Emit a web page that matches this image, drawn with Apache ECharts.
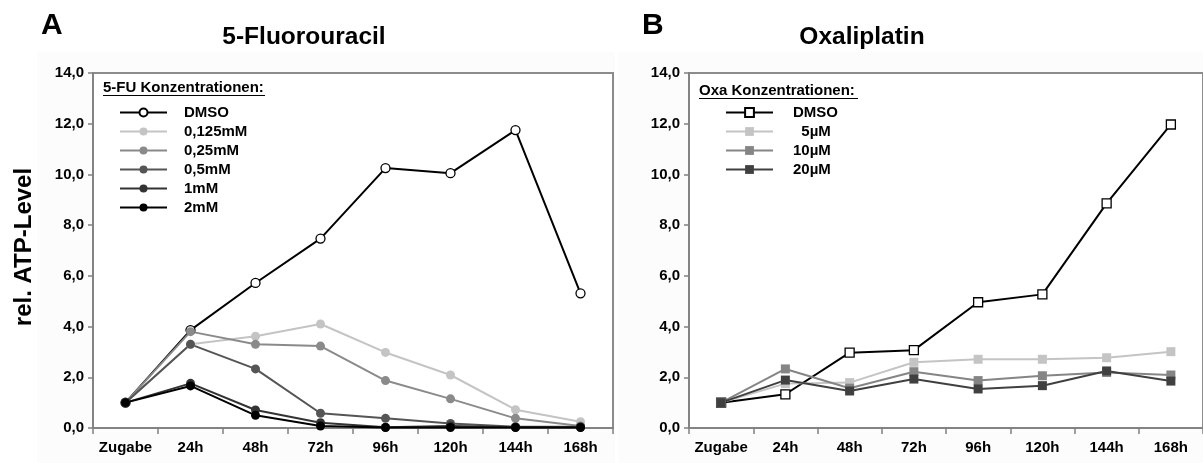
<!DOCTYPE html>
<html>
<head>
<meta charset="utf-8">
<script src="https://cdn.jsdelivr.net/npm/echarts@6/dist/echarts.min.js"></script>
<style>
  html, body { margin: 0; padding: 0; background: #fff; }
  #chart { width: 1203px; height: 463px; }
</style>
</head>
<body>
<div id="chart"></div>
<script>
// Time points of the viability assay
const categories = ['Zugabe', '24h', '48h', '72h', '96h', '120h', '144h', '168h'];

// Y axis ticks (relative ATP level)
const yMin = 0;
const yMax = 14;
const yStep = 2;

// 5-Fluorouracil (panel A)
const fuNames = ['DMSO', '0,125mM', '0,25mM', '0,5mM', '1mM', '2mM'];
const fuDMSO = [1.0, 3.86, 5.72, 7.47, 10.25, 10.05, 11.75, 5.31];
const fu0125 = [1.0, 3.30, 3.62, 4.10, 2.98, 2.09, 0.72, 0.25];
const fu025  = [1.0, 3.80, 3.30, 3.23, 1.87, 1.15, 0.38, 0.08];
const fu05   = [1.0, 3.30, 2.33, 0.58, 0.38, 0.18, 0.05, 0.05];
const fu1    = [1.0, 1.76, 0.71, 0.21, 0.03, 0.08, 0.03, 0.03];
const fu2    = [1.0, 1.66, 0.50, 0.08, 0.02, 0.02, 0.02, 0.02];

// Oxaliplatin (panel B)
const oxaNames = ['DMSO', '5µM', '10µM', '20µM'];
const oxaDMSO = [1.0, 1.33, 2.97, 3.07, 4.96, 5.27, 8.86, 11.97];
const oxa5    = [1.0, 1.75, 1.79, 2.59, 2.71, 2.71, 2.77, 3.01];
const oxa10   = [1.0, 2.33, 1.57, 2.22, 1.87, 2.06, 2.19, 2.09];
const oxa20   = [1.0, 1.89, 1.46, 1.93, 1.54, 1.67, 2.25, 1.85];

const FONT = '"Liberation Sans", Arial, Helvetica, sans-serif';
const fuColors  = ['#000000', '#c4c4c4', '#8a8a8a', '#555555', '#333333', '#000000'];
const oxaColors = ['#000000', '#c4c4c4', '#858585', '#404040'];
const fuData  = [fuDMSO, fu0125, fu025, fu05, fu1, fu2];
const oxaData = [oxaDMSO, oxa5, oxa10, oxa20];

// internal series keys, displayed through the legend formatter
const fuKeys  = fuNames.map(n => 'FU ' + n);
const oxaKeys = oxaNames.map(n => 'OXA ' + n);
const display = {};
fuKeys.forEach((k, i) => display[k] = fuNames[i]);
oxaKeys.forEach((k, i) => display[k] = (oxaNames[i] === '5µM' ? '  ' : '') + oxaNames[i]);

function lineSeries(key, data, color, idx, symbol, hollow) {
  return {
    type: 'line',
    name: key,
    data: data,
    xAxisIndex: idx,
    yAxisIndex: idx,
    symbol: symbol,
    symbolSize: 9,
    showAllSymbol: true,
    lineStyle: { color: color, width: 2 },
    itemStyle: hollow
      ? { color: '#ffffff', borderColor: color, borderWidth: 1.3 }
      : { color: color, borderColor: color, borderWidth: 0 },
    emphasis: { disabled: true },
    animation: false,
    z: 3
  };
}

const series = [];
fuKeys.forEach((k, i) => series.push(lineSeries(k, fuData[i], fuColors[i], 0, 'circle', i === 0)));
oxaKeys.forEach((k, i) => series.push(lineSeries(k, oxaData[i], oxaColors[i], 1, 'rect', i === 0)));

const fmtY = v => v.toFixed(1).replace('.', ',');

function xAxis(gridIndex) {
  return {
    type: 'category',
    gridIndex: gridIndex,
    data: categories,
    boundaryGap: true,
    axisLine: { show: true, lineStyle: { color: '#808080', width: 1.5 } },
    axisTick: { show: true, length: 6, inside: false, lineStyle: { color: '#808080', width: 1.5 } },
    axisLabel: { color: '#000', fontFamily: FONT, fontWeight: 'bold', fontSize: 15, margin: 12, interval: 0 },
    splitLine: { show: false }
  };
}
function yAxis(gridIndex) {
  return {
    type: 'value',
    gridIndex: gridIndex,
    min: yMin, max: yMax, interval: yStep,
    axisLine: { show: true, lineStyle: { color: '#808080', width: 1.5 } },
    axisTick: { show: true, length: 5, lineStyle: { color: '#808080', width: 1.5 } },
    axisLabel: { color: '#000', fontFamily: FONT, fontWeight: 'bold', fontSize: 15, margin: 9, formatter: fmtY },
    splitLine: { show: false }
  };
}

function legend(keys, left, top, itemH, gapText) {
  return {
    data: keys,
    orient: 'vertical',
    left: left,
    top: top,
    padding: 0,
    itemWidth: 47,
    itemHeight: itemH,
    itemGap: 4,
    selectedMode: false,
    formatter: name => display[name],
    textStyle: { color: '#000', fontFamily: FONT, fontWeight: 'bold', fontSize: 15, lineHeight: 15, padding: [0, 0, 0, gapText] }
  };
}

function textEl(x, y, text, size, align) {
  return {
    type: 'text', x: x, y: y, z: 10,
    style: { text: text, fill: '#000', font: 'bold ' + size + 'px ' + FONT, textAlign: align || 'left', textVerticalAlign: 'middle' }
  };
}

const option = {
  backgroundColor: '#ffffff',
  animation: false,
  grid: [
    { left: 93, top: 73, width: 520, height: 355, show: true, backgroundColor: '#ffffff', borderColor: '#8c8c8c', borderWidth: 2 },
    { left: 689, top: 73, width: 519, height: 355, show: true, backgroundColor: '#ffffff', borderColor: '#8c8c8c', borderWidth: 2 }
  ],
  xAxis: [xAxis(0), xAxis(1)],
  yAxis: [yAxis(0), yAxis(1)],
  legend: [
    legend(fuKeys, 119, 105, 10, 12),
    legend(oxaKeys, 725, 105, 11, 15)
  ],
  graphic: [
    // faint chart-area backgrounds
    { type: 'rect', shape: { x: 37, y: 52, width: 578, height: 411 }, style: { fill: '#fcfcfc' }, z: -10, silent: true },
    { type: 'rect', shape: { x: 618, y: 52, width: 585, height: 411 }, style: { fill: '#fcfcfc' }, z: -10, silent: true },
    // panel letters and titles
    textEl(41, 26, 'A', 30),
    textEl(642, 26, 'B', 30),
    textEl(304, 37, '5-Fluorouracil', 24.5, 'center'),
    textEl(862, 37, 'Oxaliplatin', 24.5, 'center'),
    // shared y axis name
    { type: 'text', x: 24, y: 247, rotation: Math.PI / 2, z: 10,
      style: { text: 'rel. ATP-Level', fill: '#000', font: 'bold 24px ' + FONT, textAlign: 'center', textVerticalAlign: 'middle' } },
    // legend headings, underlined
    textEl(103, 88, '5-FU Konzentrationen:', 15),
    { type: 'line', z: 10, shape: { x1: 103, y1: 95.5, x2: 265, y2: 95.5 }, style: { stroke: '#000', lineWidth: 1.2 } },
    textEl(699, 91, 'Oxa Konzentrationen:', 15),
    { type: 'line', z: 10, shape: { x1: 699, y1: 98.5, x2: 858, y2: 98.5 }, style: { stroke: '#000', lineWidth: 1.2 } }
  ],
  series: series
};

const chart = echarts.init(document.getElementById('chart'), null, { renderer: 'canvas' });
chart.setOption(option);
</script>
</body>
</html>
